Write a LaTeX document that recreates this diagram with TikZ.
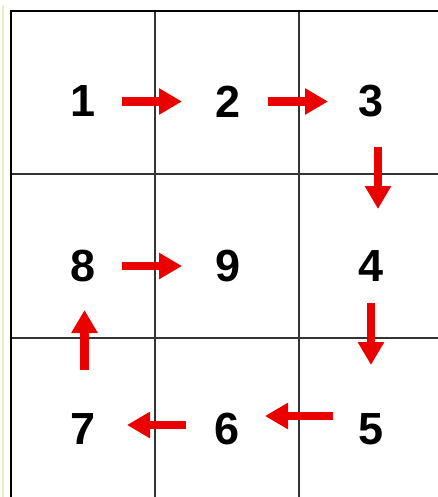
\documentclass[tikz,border=0pt]{standalone}
\usepackage{fontspec}
\setmainfont{Liberation Sans}
\usetikzlibrary{arrows.meta}
\definecolor{arrowred}{RGB}{235,0,0}
\definecolor{margingreen}{RGB}{232,240,196}
\begin{document}
\begin{tikzpicture}[x=1pt,y=-1pt,
every node/.style={inner sep=0pt,font=\fontsize{45}{45}\selectfont\bfseries},
flow/.style={draw=arrowred,line width=8.5pt,-{Triangle[width=25pt,length=23pt]}},
grid/.style={line width=1.1pt,black!80}]
\useasboundingbox (0,0) rectangle (438,497);
\draw[margingreen,line width=2.5pt] (3,5)--(3,497);
% cells
\draw[grid] (155,11)--(155,497);
\draw[grid] (299,11)--(299,497);
\draw[grid] (11,174)--(438,174);
\draw[grid] (11,338)--(438,338);
\draw[line width=2pt] (438,11)--(11,11)--(11,497);
% numbers
\node (n1) at (83,101.5) {1};
\node (n2) at (228,101.5) {2};
\node (n3) at (371,101.5) {3};
\node (n8) at (83,266) {8};
\node (n9) at (228,266) {9};
\node (n4) at (371,266) {4};
\node (n7) at (83.5,429) {7};
\node (n6) at (227,429) {6};
\node (n5) at (371,429) {5};
% path
\draw[flow] ([xshift=39pt]n1.center)--([xshift=-46pt]n2.center);
\draw[flow] ([xshift=40pt]n2.center)--([xshift=-43pt]n3.center);
\draw[flow] ([xshift=7pt,yshift=-46pt]n3.center)--([xshift=7pt,yshift=57pt]n4.center);
\draw[flow] ([yshift=-37pt]n4.center)--([yshift=64pt]n5.center);
\draw[flow] ([xshift=-38pt,yshift=13pt]n5.center)--([xshift=38pt,yshift=13pt]n6.center);
\draw[flow] ([xshift=-41pt,yshift=4pt]n6.center)--([xshift=43.5pt,yshift=4pt]n7.center);
\draw[flow] ([xshift=1pt,yshift=59pt]n7.center)--([xshift=1.5pt,yshift=-44pt]n8.center);
\draw[flow] ([xshift=39pt]n8.center)--([xshift=-46pt]n9.center);
\end{tikzpicture}
\end{document}
